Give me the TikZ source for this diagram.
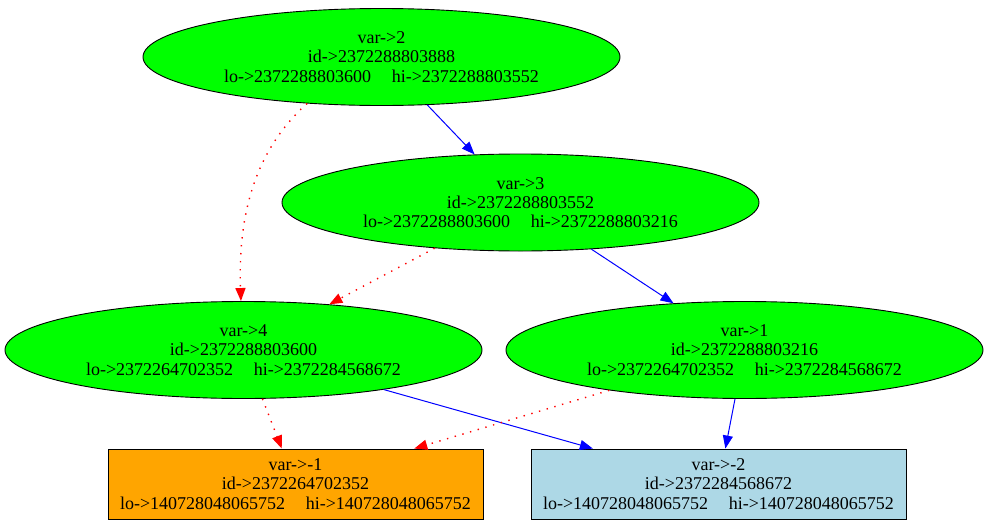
\documentclass[tikz,border=0pt]{standalone}
\usepackage{fontspec}
\setmainfont{Liberation Serif}
\usetikzlibrary{arrows.meta,shapes.geometric}

\begin{document}
\begin{tikzpicture}[
  x=1pt, y=1pt,
  font=\fontsize{18}{19.3}\selectfont,
  bdd/.style={draw, line width=0.9pt, ellipse, fill=vgreen, align=center, inner sep=0pt, minimum width=477pt, minimum height=97pt},
  leaf/.style={draw, line width=0.9pt, rectangle, align=center, inner sep=0pt, minimum width=375pt, minimum height=70pt},
  hiedge/.style={-{Triangle[length=13pt, width=10pt, fill=blue]}, line width=1pt, draw=blue},
  loedge/.style={-{Triangle[length=13pt, width=10pt, fill=red]}, line width=1.4pt, draw=red, dash pattern=on 1.4pt off 6.6pt}
]
\definecolor{vgreen}{HTML}{00FF00}
\definecolor{leaforange}{HTML}{FFA500}
\definecolor{leafblue}{HTML}{ADD8E6}
\newcommand{\lohi}[2]{lo->#1\hspace{1.15em}hi->#2}

\useasboundingbox (0,0) rectangle (989,-525);

\node[bdd] (n2) at (381.5,-57) {var->2\\id->2372288803888\\\lohi{2372288803600}{2372288803552}};
\node[bdd] (n3) at (520.5,-202.5) {var->3\\id->2372288803552\\\lohi{2372288803600}{2372288803216}};
\node[bdd] (n4) at (243.5,-350) {var->4\\id->2372288803600\\\lohi{2372264702352}{2372284568672}};
\node[bdd] (n1) at (744.5,-350) {var->1\\id->2372288803216\\\lohi{2372264702352}{2372284568672}};
\node[leaf, fill=leaforange] (neg1) at (295.5,-484) {var->-1\\id->2372264702352\\\lohi{140728048065752}{140728048065752}};
\node[leaf, fill=leafblue] (neg2) at (718.5,-484) {var->-2\\id->2372284568672\\\lohi{140728048065752}{140728048065752}};

\draw[hiedge] (n2) -- (n3);
\draw[loedge] (n2.212) .. controls +(222:60) and +(92:100) .. (n4.93);
\draw[loedge] (n3) -- (n4);
\draw[hiedge] (n3) -- (n1);
\draw[loedge] (n4) -- (neg1);
\draw[hiedge] (n4) -- (neg2);
\draw[loedge] (n1) -- (neg1);
\draw[hiedge] (n1) -- (neg2);

\end{tikzpicture}
\end{document}
